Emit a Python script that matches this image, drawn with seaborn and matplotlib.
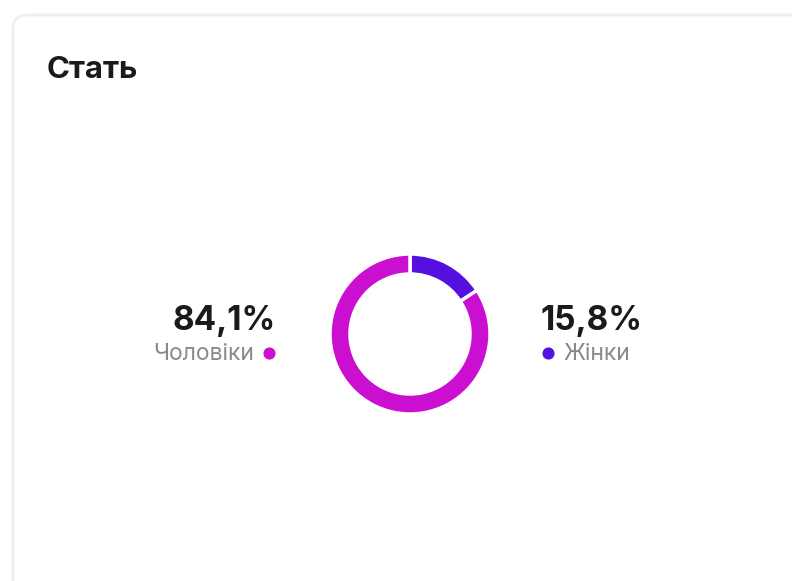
import matplotlib
matplotlib.use("Agg")
import matplotlib.pyplot as plt
from matplotlib.patches import FancyBboxPatch
import seaborn as sns

sns.set_theme(style="white")
plt.rcParams['font.family'] = ['Inter', 'DejaVu Sans']

title = "Стать"
categories = ["Жінки", "Чоловіки"]
values = [15.8, 84.1]
value_labels = ["15,8%", "84,1%"]
colors = ["#5510E0", "#CB0FD0"]

W, H = 792, 581
fig = plt.figure(figsize=(W / 100, H / 100), dpi=100)
fig.patch.set_facecolor("white")

bg = fig.add_axes([0, 0, 1, 1])
bg.set_xlim(0, W)
bg.set_ylim(H, 0)
bg.axis("off")

card = FancyBboxPatch((13, 15), 820, 620, boxstyle="round,pad=0,rounding_size=14",
                      facecolor="white", edgecolor="#EFEFEF", linewidth=2.0)
bg.add_patch(card)

bg.text(47, 70, title, fontsize=22.5, fontweight="bold", color="#1A1A1A",
        ha="left", va="center")

# Left label (Чоловіки)
bg.text(276, 321, value_labels[1], fontsize=24, fontweight="bold", color="#1A1A1A",
        ha="right", va="center")
bg.text(254, 354, categories[1], fontsize=16.5, color="#8A8A8A",
        ha="right", va="center")
bg.scatter([269], [353], s=60, color=colors[1], zorder=3)

# Right label (Жінки)
bg.text(541, 321, value_labels[0], fontsize=24, fontweight="bold", color="#1A1A1A",
        ha="left", va="center")
bg.text(563, 354, categories[0], fontsize=16.5, color="#8A8A8A",
        ha="left", va="center")
bg.scatter([548], [353], s=60, color=colors[0], zorder=3)

# Donut
cx, cy, r = 410, 334, 80
ax = fig.add_axes([(cx - r) / W, (H - cy - r) / H, 2 * r / W, 2 * r / H])
wedges, _ = ax.pie(values, colors=colors, startangle=90, counterclock=False,
                   radius=1.0,
                   wedgeprops=dict(width=0.25, edgecolor="white", linewidth=2.5))
for w in wedges:
    w.set_clip_on(False)
ax.set_xlim(-1, 1)
ax.set_ylim(-1, 1)
ax.set_aspect("equal")
ax.axis("off")

fig.savefig("out.png", dpi=100, facecolor="white")
